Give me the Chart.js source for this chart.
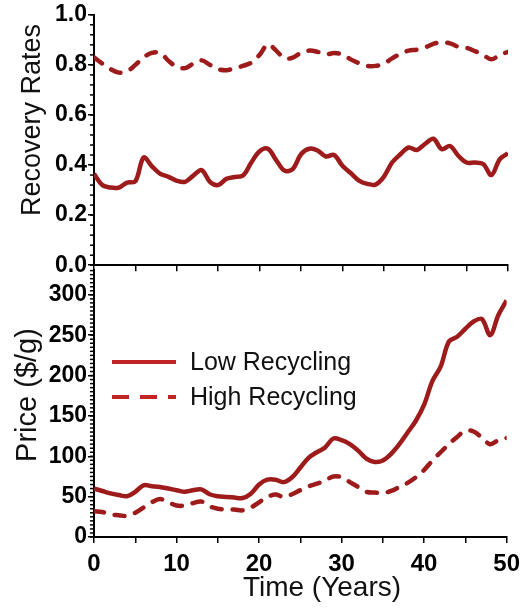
<!DOCTYPE html>
<html>
<head>
<meta charset="utf-8">
<script src="https://cdn.jsdelivr.net/npm/chart.js@4"></script>
<style>
  body { margin: 0; background: #fff; }
  #wrap { position: relative; width: 527px; height: 609px; }
  #top { position: absolute; left: 0; top: 0; }
  #bottom { position: absolute; left: 0; top: 255px; }
</style>
</head>
<body>
<div id="wrap">
  <canvas id="top" width="527" height="280"></canvas>
  <canvas id="bottom" width="527" height="354"></canvas>
</div>
<script>
// data, one value per year
const years = [0,1,2,3,4,5,6,7,8,9,10,11,12,13,14,15,16,17,18,19,20,21,22,23,24,25,
  26,27,28,29,30,31,32,33,34,35,36,37,38,39,40,41,42,43,44,45,46,47,48,49,50];

const lowRate = [0.365,0.32,0.31,0.31,0.33,0.335,0.43,0.395,0.365,0.353,0.337,0.333,0.358,0.38,0.333,0.32,
  0.345,0.352,0.358,0.41,0.455,0.465,0.42,0.378,0.384,0.443,0.465,0.458,0.434,0.44,0.397,0.368,0.338,
  0.325,0.322,0.353,0.41,0.443,0.47,0.46,0.485,0.505,0.463,0.476,0.437,0.41,0.41,0.404,0.36,0.423,0.447];
const highRate = [0.83,0.805,0.783,0.769,0.774,0.80,0.83,0.848,0.848,0.816,0.792,0.787,0.805,0.818,0.80,0.783,
  0.779,0.787,0.796,0.809,0.84,0.882,0.857,0.826,0.829,0.848,0.857,0.852,0.842,0.847,0.842,0.822,0.807,
  0.796,0.796,0.805,0.826,0.844,0.857,0.861,0.87,0.884,0.89,0.886,0.872,0.868,0.855,0.84,0.822,0.84,0.852];

const lowPrice = [60,57,54,52,50.5,56,64,63,62,60,58,56,58,59,53,50.5,49.6,48.8,48.3,53.7,65,71,71,68,74,86,
  98,105,111,122,120,115,107,97,93,94.7,103,115,129.5,144,164,193,211,242,248,258,267,270,250,275,293];
const highPrice = [32,31,28,27,26,30,36.5,43,47,43,39,39,42,44,38,35,34,34,33,36.5,43,49.6,52.5,49.6,53,58,
  62.7,66,70,75,74,68,62,56,55,54.5,57,62,67,74,83,94.7,105,115,124,131.6,130.7,123,115,120,122.6];

const seriesNames = ['Low Recycling', 'High Recycling'];
const rateTicks = [0, 0.2, 0.4, 0.6, 0.8, 1.0];
const priceTicks = [0, 50, 100, 150, 200, 250, 300];
const yearTicks = [0, 10, 20, 30, 40, 50];

const red = '#9e1b1b';
const font = 'Liberation Sans, Arial, sans-serif';

function pts(vals) {
  return vals.map((v, i) => ({ x: years[i], y: v }));
}

function lineSet(label, vals, dashed) {
  return {
    label: label,
    data: pts(vals),
    borderColor: red,
    borderWidth: 4.5,
    borderDash: dashed ? [10, 11] : [],
    borderCapStyle: dashed ? 'round' : 'butt',
    pointRadius: 0,
    tension: 0.35,
    fill: false
  };
}

// short minor ticks on the left axis
const minorTicks = {
  id: 'minorTicks',
  afterDraw(chart, args, opts) {
    const s = chart.scales.y;
    const ctx = chart.ctx;
    ctx.save();
    ctx.strokeStyle = '#000';
    ctx.lineWidth = 1.5;
    for (let v = s.min; v <= s.max + 1e-9; v += opts.step) {
      const y = s.getPixelForValue(v);
      ctx.beginPath();
      ctx.moveTo(s.right - 4, y);
      ctx.lineTo(s.right, y);
      ctx.stroke();
    }
    ctx.restore();
  }
};

// axis titles, placed where the reference has them
const titles = {
  id: 'titles',
  afterDraw(chart, args, opts) {
    const ctx = chart.ctx;
    ctx.save();
    ctx.fillStyle = '#111';
    ctx.textAlign = 'center';
    ctx.textBaseline = 'middle';
    ctx.font = opts.ySize + 'px ' + font;
    ctx.translate(opts.yx, opts.yy);
    ctx.rotate(-Math.PI / 2);
    ctx.fillText(opts.yText, 0, 0);
    ctx.restore();
    if (opts.xText) {
      ctx.save();
      ctx.fillStyle = '#111';
      ctx.textAlign = 'center';
      ctx.textBaseline = 'middle';
      ctx.font = '28px ' + font;
      ctx.fillText(opts.xText, 322, 333);
      ctx.restore();
    }
  }
};

// legend inside the price panel
const legendBox = {
  id: 'legendBox',
  afterDraw(chart) {
    const ctx = chart.ctx;
    ctx.save();
    chart.data.datasets.forEach((ds, i) => {
      const y = 107 + i * 35;
      ctx.strokeStyle = '#c02424';
      ctx.lineWidth = 4;
      ctx.setLineDash(i ? [17, 11] : []);
      ctx.beginPath();
      ctx.moveTo(112, y);
      ctx.lineTo(176, y);
      ctx.stroke();
      ctx.setLineDash([]);
      ctx.fillStyle = '#111';
      ctx.font = '25px ' + font;
      ctx.textBaseline = 'middle';
      ctx.fillText(ds.label, 190, y + 1);
    });
    ctx.restore();
  }
};

const axisLine = { color: '#000', width: 2 };
const tickGrid = { drawOnChartArea: false, color: '#000', lineWidth: 1.5, tickLength: 6 };

new Chart(document.getElementById('top'), {
  type: 'line',
  data: {
    datasets: [lineSet(seriesNames[0], lowRate, false), lineSet(seriesNames[1], highRate, true)]
  },
  options: {
    responsive: false,
    animation: false,
    layout: { padding: { left: 0, right: 19, top: 13, bottom: 0 } },
    plugins: {
      legend: { display: false }, tooltip: { enabled: false },
      minorTicks: { step: 0.04 },
      titles: { yText: 'Recovery Rates', ySize: 27, yx: 33, yy: 120 }
    },
    scales: {
      x: {
        type: 'linear', min: 0, max: 50,
        border: axisLine,
        grid: tickGrid,
        ticks: { display: false, stepSize: 5 },
        afterFit(s) { s.height = 12; }
      },
      y: {
        min: 0, max: 1,
        border: axisLine,
        grid: tickGrid,
        afterBuildTicks(s) { s.ticks = rateTicks.map(v => ({ value: v })); },
        ticks: {
          padding: 1, color: '#000',
          font: { family: font, size: 23, weight: 'bold' },
          callback: v => Number(v).toFixed(1)
        },
        afterFit(s) { s.width = 94; }
      }
    }
  },
  plugins: [minorTicks, titles]
});

new Chart(document.getElementById('bottom'), {
  type: 'line',
  data: {
    datasets: [lineSet(seriesNames[0], lowPrice, false), lineSet(seriesNames[1], highPrice, true)]
  },
  options: {
    responsive: false,
    animation: false,
    layout: { padding: { left: 0, right: 19, top: 13, bottom: 0 } },
    plugins: {
      legend: { display: false }, tooltip: { enabled: false },
      minorTicks: { step: 5 },
      titles: { yText: 'Price ($/g)', ySize: 29, yx: 28, yy: 140, xText: 'Time (Years)' }
    },
    scales: {
      x: {
        type: 'linear', min: 0, max: 50,
        border: axisLine,
        grid: tickGrid,
        ticks: {
          stepSize: 5, padding: 7, color: '#000', maxRotation: 0, autoSkip: false,
          font: { family: font, size: 24, weight: 'bold' },
          callback: v => yearTicks.includes(v) ? String(v) : ''
        },
        afterFit(s) { s.height = 72; }
      },
      y: {
        min: 0, max: 331,
        border: axisLine,
        grid: tickGrid,
        afterBuildTicks(s) { s.ticks = priceTicks.map(v => ({ value: v })); },
        ticks: {
          padding: 1, color: '#000',
          font: { family: font, size: 23, weight: 'bold' }
        },
        afterFit(s) { s.width = 94; }
      }
    }
  },
  plugins: [minorTicks, titles, legendBox]
});
</script>
</body>
</html>
